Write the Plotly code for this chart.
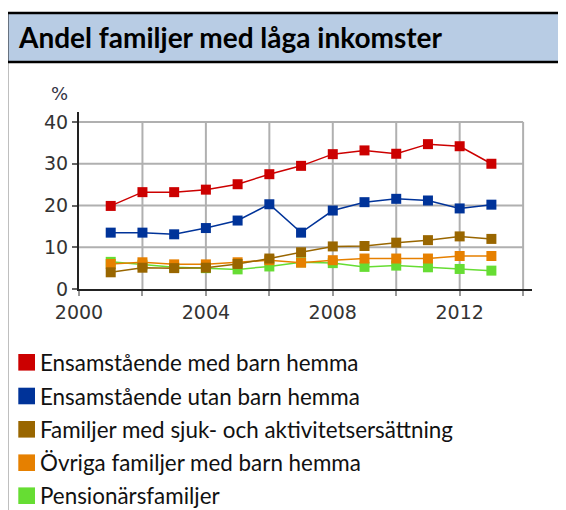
import plotly.graph_objects as go

years = [2001, 2002, 2003, 2004, 2005, 2006, 2007, 2008, 2009, 2010, 2011, 2012, 2013]
series_names = [
    "Ensamstående med barn hemma",
    "Ensamstående utan barn hemma",
    "Familjer med sjuk- och aktivitetsersättning",
    "Övriga familjer med barn hemma",
    "Pensionärsfamiljer",
]
ensam_med_barn = [19.9, 23.2, 23.2, 23.8, 25.1, 27.5, 29.5, 32.3, 33.2, 32.4, 34.7, 34.2, 30.0]
ensam_utan_barn = [13.5, 13.5, 13.1, 14.6, 16.4, 20.3, 13.5, 18.8, 20.8, 21.6, 21.2, 19.3, 20.2]
sjuk_aktivitet = [4.0, 5.1, 5.0, 5.1, 6.0, 7.3, 8.8, 10.2, 10.3, 11.1, 11.7, 12.6, 12.0]
ovriga_med_barn = [6.0, 6.4, 5.9, 5.9, 6.4, 6.9, 6.3, 6.9, 7.3, 7.3, 7.3, 7.9, 7.9]
pensionarer = [6.5, 5.8, 5.2, 5.0, 4.7, 5.4, 6.4, 6.2, 5.3, 5.6, 5.2, 4.8, 4.4]
series_values = [ensam_med_barn, ensam_utan_barn, sjuk_aktivitet, ovriga_med_barn, pensionarer]
colors = ["#cc0000", "#003399", "#996600", "#e68000", "#66dd33"]

x_tickvals = [2000, 2002, 2004, 2006, 2008, 2010, 2012, 2014]
x_ticktext = ["2000", "", "2004", "", "2008", "", "2012", ""]
y_tickvals = [0, 10, 20, 30, 40]
title_text = "Andel familjer med låga inkomster"
y_unit = "%"

# the page body has an 8px margin; work in window pixels and shift by it
OFF = 8
W, H = 566 - OFF, 510 - OFF
L = 79 - OFF
T = 112 - OFF
PLOT_BOTTOM = 289 - OFF
PLOT_RIGHT = 532 - OFF
R = W - PLOT_RIGHT
B = H - PLOT_BOTTOM
PW, PH = W - L - R, H - T - B


def px(xp):
    return (xp - OFF - L) / PW


def py(yp):
    return (PLOT_BOTTOM - (yp - OFF)) / PH


fig = go.Figure()

# draw in reverse order so the first series is on top
for name, vals, col in reversed(list(zip(series_names, series_values, colors))):
    fig.add_trace(go.Scatter(
        x=years, y=vals, name=name, mode="lines+markers",
        line=dict(color=col, width=1.5),
        marker=dict(symbol="square", size=10, color=col),
        showlegend=False,
    ))

shapes = []
# grid (limited to 2000-2014, 0-40)
for xv in x_tickvals[1:]:
    shapes.append(dict(type="line", xref="x", yref="y", x0=xv, x1=xv, y0=0, y1=40,
                       line=dict(color="#b0b0b0", width=2), layer="below"))
for yv in y_tickvals[1:]:
    shapes.append(dict(type="line", xref="x", yref="y", x0=2000, x1=2014, y0=yv, y1=yv,
                       line=dict(color="#b0b0b0", width=2), layer="below"))

# frame and title band
shapes.append(dict(type="rect", xref="paper", yref="paper",
                   x0=px(7), x1=px(600), y0=py(62), y1=py(13),
                   fillcolor="#b8cce4", line=dict(color="black", width=2.5), layer="above"))
shapes.append(dict(type="line", xref="paper", yref="paper",
                   x0=px(7), x1=px(7), y0=py(13), y1=py(560),
                   line=dict(color="black", width=2.5)))

annotations = [
    dict(text=f"<b>{title_text}</b>", xref="paper", yref="paper", x=px(16), y=py(37.5),
         xanchor="left", yanchor="middle", showarrow=False,
         font=dict(family="Lato", size=28, color="#000000")),
    dict(text=y_unit, xref="paper", yref="paper", x=px(59), y=py(93),
         xanchor="center", yanchor="middle", showarrow=False,
         font=dict(family="DejaVu Sans", size=18, color="#333344")),
]

# legend built from series names/colors
leg_y = [362.3, 396, 429.3, 462.7, 495.7]
for name, col, ly in zip(series_names, colors, leg_y):
    shapes.append(dict(type="rect", xref="paper", yref="paper",
                       x0=px(18.3), x1=px(35), y0=py(ly + 8.3), y1=py(ly - 8.3),
                       fillcolor=col, line=dict(width=0)))
    annotations.append(dict(text=name, xref="paper", yref="paper", x=px(38), y=py(ly),
                            xanchor="left", yanchor="middle", showarrow=False,
                            font=dict(family="Lato", size=22.4, color="#111111")))

fig.update_layout(
    width=W, height=H,
    margin=dict(l=L, r=R, t=T, b=B, pad=0),
    paper_bgcolor="white", plot_bgcolor="white",
    shapes=shapes, annotations=annotations,
    showlegend=False,
    xaxis=dict(range=[2000, 2014.28], tickvals=x_tickvals, ticktext=x_ticktext,
               showgrid=False, zeroline=False, showline=True, linecolor="#222222", linewidth=2,
               ticks="outside", ticklen=5, tickcolor="#999999", tickwidth=1.5,
               tickfont=dict(family="DejaVu Sans", size=19, color="#333333"),
               ticklabelstandoff=0),
    yaxis=dict(range=[0, 42.4], tickvals=y_tickvals,
               showgrid=False, zeroline=False, showline=True, linecolor="#222222", linewidth=2,
               ticks="outside", ticklen=5, tickcolor="#666666", tickwidth=1.5,
               tickfont=dict(family="DejaVu Sans", size=19, color="#333333")),
)

fig.write_html("out.html")
